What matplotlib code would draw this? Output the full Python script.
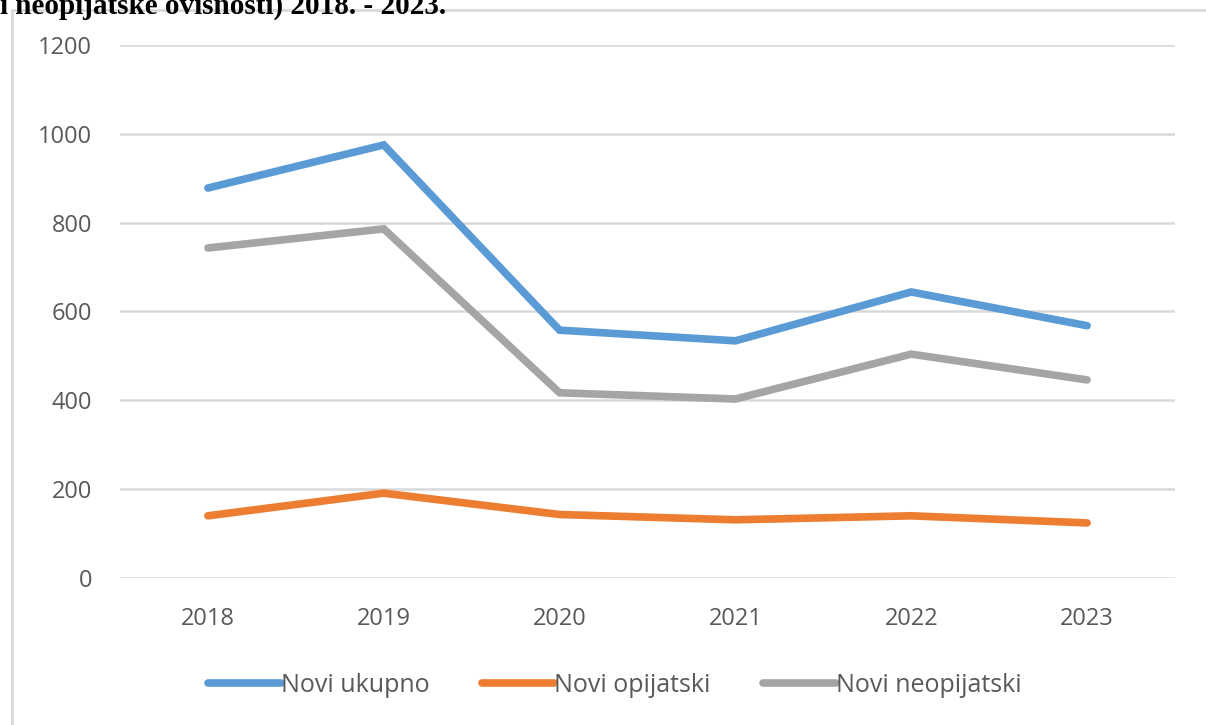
import matplotlib.pyplot as plt
from matplotlib.patches import Rectangle

# Data
years = ['2018', '2019', '2020', '2021', '2022', '2023']
novi_ukupno = [878, 975, 558, 534, 644, 568]
novi_opijatski = [140, 191, 143, 131, 140, 124]
novi_neopijatski = [743, 786, 417, 403, 504, 446]

series = [
    ('Novi ukupno', novi_ukupno, '#5B9BD5'),
    ('Novi opijatski', novi_opijatski, '#ED7D31'),
    ('Novi neopijatski', novi_neopijatski, '#A5A5A5'),
]

W, H = 1206, 725
fig = plt.figure(figsize=(W / 100, H / 100), dpi=100)

# plot area in pixels: x 120..1175, y 45..578
ax = fig.add_axes([120 / W, 1 - 578 / H, (1175 - 120) / W, (578 - 45) / H])

x = range(len(years))
for label, vals, color in series:
    ax.plot(x, vals, color=color, lw=5.5, solid_capstyle='round',
            solid_joinstyle='miter', label=label)

ax.set_xlim(-0.5, len(years) - 0.5)
ax.set_ylim(0, 1200)
ax.set_yticks(range(0, 1201, 200))
ax.set_xticks(list(x))
ax.set_xticklabels(years)
ax.grid(axis='y', color='#D9D9D9', lw=1.8)
ax.set_axisbelow(True)
for s in ax.spines.values():
    s.set_visible(False)
ax.tick_params(length=0, labelsize=17, labelcolor='#595959')
ax.tick_params(axis='y', pad=20)
ax.tick_params(axis='x', pad=21)
for t in ax.get_xticklabels() + ax.get_yticklabels():
    t.set_family('Open Sans')

leg = ax.legend(loc='center', bbox_to_anchor=(0.469, (578 - 685) / (578 - 45)),
                ncol=3, frameon=False, handlelength=2.9, handletextpad=0.0,
                columnspacing=2.1, prop={'family': 'Open Sans', 'size': 18})
for t in leg.get_texts():
    t.set_color('#595959')

# outer chart frame
fig.patches.append(Rectangle((12 / W, -0.05), 1.1, 1 - 10 / H + 0.05,
                             transform=fig.transFigure, fill=False,
                             edgecolor='#D9D9D9', lw=2))

# caption above the chart (its top is cut by the crop, as in the source)
fig.text(0, 1 - 14 / H, 'i neopijatske ovisnosti) 2018. - 2023.',
         family='Liberation Serif', weight='bold', fontsize=21,
         va='baseline', ha='left')

fig.savefig('out.png', dpi=100)
